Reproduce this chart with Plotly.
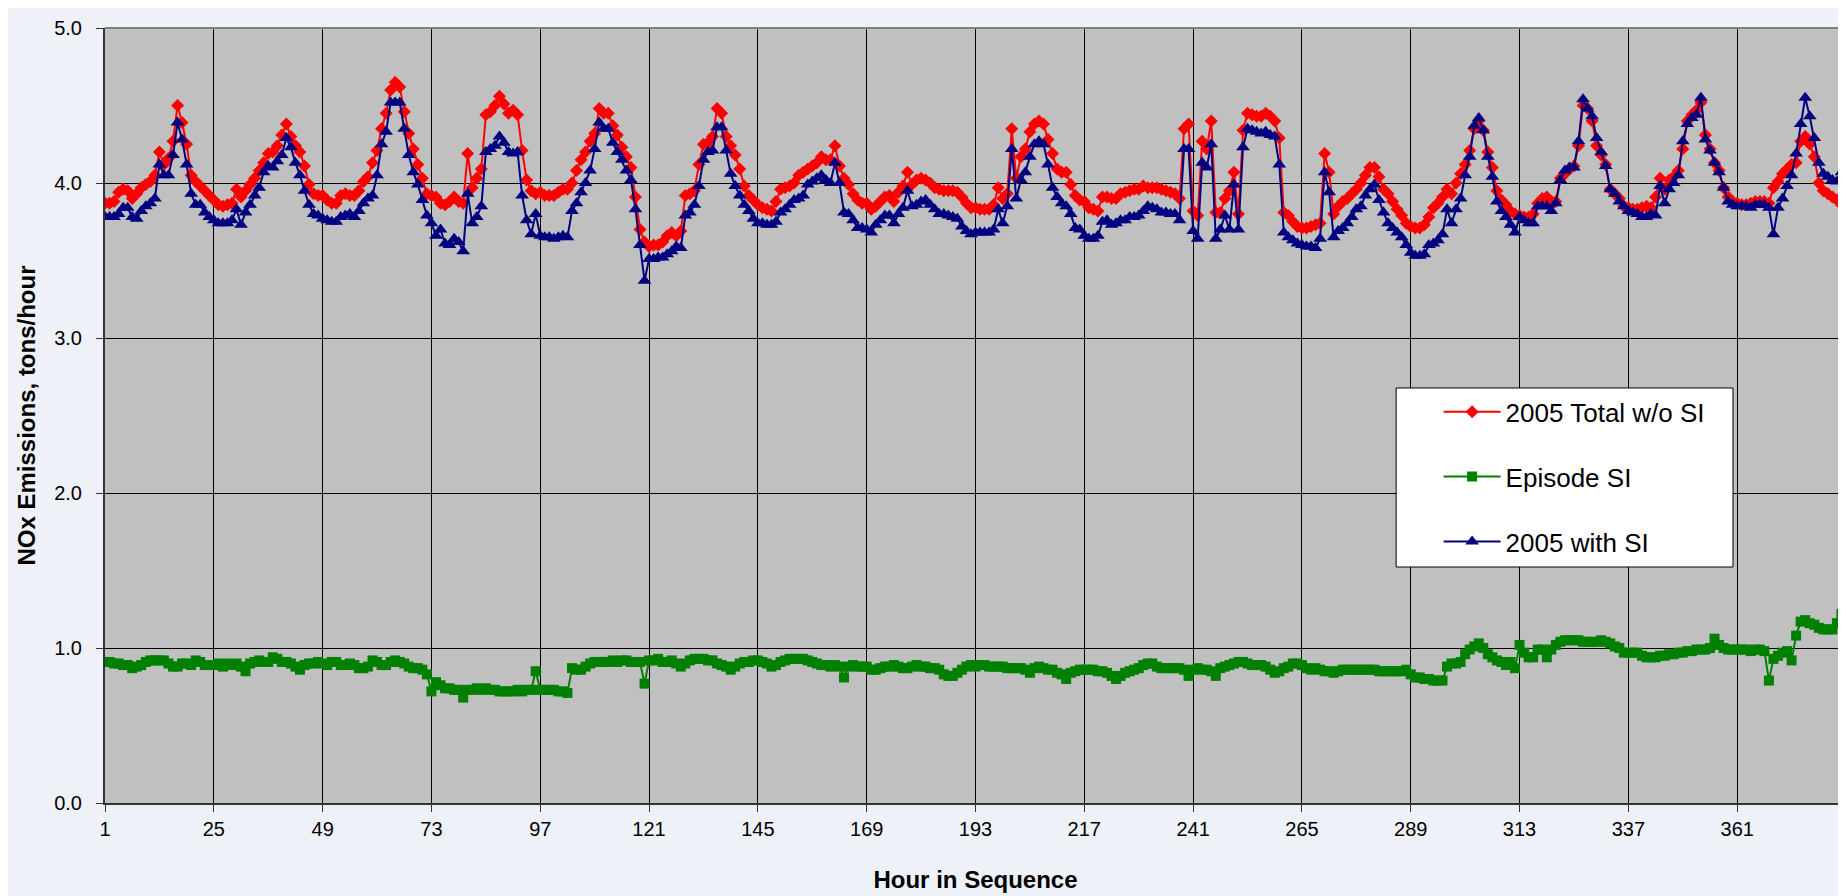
import plotly.graph_objects as go

# Hour index for the 16-day episode
hours = list(range(1, 385))
tick_hours = [1, 25, 49, 73, 97, 121, 145, 169, 193, 217, 241, 265, 289, 313, 337, 361]

total_wo_si = [
    3.87, 3.87, 3.88, 3.94, 3.96, 3.95, 3.90, 3.93, 3.97, 3.99, 4.01, 4.05, 4.20, 4.12, 4.16, 4.27, 4.50, 4.39, 4.25, 4.05, 4.01, 3.98, 3.95, 3.92,
    3.89, 3.86, 3.85, 3.86, 3.87, 3.96, 3.91, 3.95, 3.99, 4.03, 4.08, 4.13, 4.19, 4.20, 4.24, 4.31, 4.38, 4.30, 4.24, 4.20, 4.11, 3.99, 3.93, 3.92,
    3.92, 3.89, 3.87, 3.87, 3.92, 3.93, 3.92, 3.92, 3.95, 4.01, 4.04, 4.13, 4.21, 4.35, 4.45, 4.60, 4.65, 4.62, 4.46, 4.32, 4.22, 4.12, 4.03, 3.93,
    3.92, 3.91, 3.87, 3.86, 3.88, 3.91, 3.88, 3.87, 4.19, 3.97, 4.03, 4.09, 4.44, 4.46, 4.50, 4.56, 4.51, 4.45, 4.47, 4.44, 4.21, 4.02, 3.95, 3.93,
    3.94, 3.92, 3.92, 3.92, 3.94, 3.96, 3.96, 4.00, 4.08, 4.15, 4.20, 4.27, 4.32, 4.48, 4.45, 4.45, 4.37, 4.31, 4.23, 4.17, 4.10, 3.91, 3.70, 3.62,
    3.59, 3.60, 3.60, 3.62, 3.66, 3.68, 3.66, 3.69, 3.92, 3.93, 3.95, 4.12, 4.25, 4.26, 4.30, 4.48, 4.45, 4.30, 4.24, 4.18, 4.09, 3.98, 3.92, 3.89,
    3.86, 3.84, 3.83, 3.82, 3.88, 3.96, 3.97, 3.98, 4.00, 4.05, 4.07, 4.09, 4.11, 4.13, 4.17, 4.15, 4.15, 4.24, 4.11, 4.03, 3.99, 3.93, 3.89, 3.87,
    3.87, 3.83, 3.85, 3.88, 3.91, 3.92, 3.88, 3.94, 3.98, 4.07, 3.99, 4.02, 4.03, 4.02, 4.00, 3.97, 3.96, 3.95, 3.95, 3.95, 3.94, 3.91, 3.87, 3.84,
    3.84, 3.83, 3.83, 3.83, 3.86, 3.97, 3.90, 3.93, 4.35, 4.03, 4.17, 4.22, 4.33, 4.38, 4.40, 4.38, 4.28, 4.19, 4.09, 4.07, 4.07, 3.99, 3.92, 3.89,
    3.88, 3.84, 3.83, 3.82, 3.91, 3.91, 3.90, 3.90, 3.93, 3.94, 3.95, 3.96, 3.96, 3.98, 3.97, 3.97, 3.97, 3.96, 3.95, 3.94, 3.93, 3.90, 4.35, 4.38,
    3.82, 3.79, 4.27, 4.22, 4.40, 3.81, 3.81, 3.90, 3.95, 4.07, 3.80, 4.34, 4.45, 4.44, 4.43, 4.43, 4.45, 4.43, 4.40, 4.29, 3.81, 3.79, 3.75, 3.72,
    3.71, 3.71, 3.72, 3.73, 3.74, 4.19, 4.07, 3.80, 3.85, 3.88, 3.90, 3.93, 3.96, 4.00, 4.05, 4.10, 4.10, 4.04, 3.96, 3.93, 3.88, 3.83, 3.79, 3.74,
    3.72, 3.71, 3.71, 3.73, 3.78, 3.84, 3.87, 3.91, 3.96, 3.93, 4.00, 4.06, 4.12, 4.21, 4.35, 4.40, 4.34, 4.20, 4.10, 3.95, 3.89, 3.86, 3.82, 3.80,
    3.79, 3.78, 3.78, 3.80, 3.87, 3.90, 3.91, 3.88, 3.88, 4.03, 4.06, 4.09, 4.11, 4.24, 4.50, 4.48, 4.40, 4.24, 4.18, 4.12, 3.96, 3.93, 3.90, 3.85,
    3.84, 3.83, 3.83, 3.84, 3.85, 3.84, 3.91, 4.03, 3.96, 4.02, 4.04, 4.08, 4.22, 4.40, 4.44, 4.47, 4.52, 4.31, 4.22, 4.13, 4.08, 3.97, 3.91, 3.88,
    3.87, 3.86, 3.86, 3.87, 3.88, 3.88, 3.88, 3.87, 3.97, 4.01, 4.06, 4.09, 4.12, 4.13, 4.27, 4.30, 4.25, 4.17, 4.00, 3.95, 3.93, 3.91, 3.89, 3.86,
]

episode_si = [
    0.91, 0.91, 0.90, 0.90, 0.89, 0.89, 0.87, 0.88, 0.89, 0.91, 0.92, 0.92, 0.92, 0.92, 0.90, 0.88, 0.88, 0.90, 0.90, 0.89, 0.92, 0.91, 0.89, 0.89,
    0.89, 0.90, 0.88, 0.90, 0.89, 0.90, 0.88, 0.85, 0.90, 0.91, 0.92, 0.91, 0.91, 0.94, 0.93, 0.91, 0.91, 0.90, 0.88, 0.86, 0.89, 0.90, 0.90, 0.91,
    0.90, 0.89, 0.91, 0.91, 0.89, 0.89, 0.90, 0.89, 0.87, 0.87, 0.88, 0.92, 0.91, 0.89, 0.89, 0.91, 0.92, 0.91, 0.90, 0.88, 0.87, 0.87, 0.86, 0.83,
    0.72, 0.78, 0.76, 0.74, 0.74, 0.73, 0.73, 0.68, 0.73, 0.73, 0.74, 0.73, 0.74, 0.73, 0.73, 0.72, 0.72, 0.72, 0.72, 0.73, 0.72, 0.73, 0.73, 0.85,
    0.73, 0.73, 0.73, 0.73, 0.72, 0.72, 0.71, 0.87, 0.86, 0.86, 0.88, 0.90, 0.91, 0.91, 0.91, 0.91, 0.92, 0.91, 0.92, 0.92, 0.91, 0.91, 0.91, 0.77,
    0.92, 0.92, 0.93, 0.91, 0.91, 0.92, 0.90, 0.88, 0.90, 0.92, 0.93, 0.93, 0.93, 0.92, 0.92, 0.90, 0.89, 0.88, 0.86, 0.88, 0.90, 0.91, 0.91, 0.92,
    0.92, 0.91, 0.90, 0.88, 0.89, 0.91, 0.92, 0.93, 0.93, 0.93, 0.93, 0.92, 0.91, 0.90, 0.89, 0.89, 0.88, 0.89, 0.88, 0.81, 0.88, 0.89, 0.88, 0.88,
    0.88, 0.86, 0.86, 0.87, 0.88, 0.88, 0.89, 0.88, 0.87, 0.87, 0.88, 0.89, 0.88, 0.88, 0.87, 0.87, 0.86, 0.83, 0.82, 0.82, 0.84, 0.86, 0.88, 0.89,
    0.88, 0.89, 0.89, 0.88, 0.88, 0.88, 0.88, 0.87, 0.87, 0.87, 0.87, 0.86, 0.84, 0.87, 0.88, 0.87, 0.86, 0.86, 0.84, 0.83, 0.80, 0.84, 0.85, 0.86,
    0.86, 0.86, 0.86, 0.85, 0.85, 0.84, 0.82, 0.80, 0.82, 0.84, 0.85, 0.86, 0.87, 0.89, 0.90, 0.90, 0.88, 0.87, 0.87, 0.87, 0.87, 0.87, 0.86, 0.82,
    0.86, 0.87, 0.86, 0.86, 0.85, 0.82, 0.87, 0.88, 0.89, 0.90, 0.91, 0.91, 0.90, 0.89, 0.89, 0.89, 0.88, 0.86, 0.84, 0.85, 0.87, 0.88, 0.90, 0.90,
    0.89, 0.87, 0.86, 0.87, 0.86, 0.85, 0.85, 0.84, 0.85, 0.86, 0.86, 0.86, 0.86, 0.86, 0.86, 0.86, 0.86, 0.85, 0.85, 0.85, 0.85, 0.85, 0.85, 0.86,
    0.83, 0.81, 0.81, 0.80, 0.80, 0.79, 0.79, 0.79, 0.88, 0.90, 0.90, 0.91, 0.96, 0.99, 1.01, 1.03, 1.00, 0.96, 0.94, 0.92, 0.91, 0.89, 0.91, 0.87,
    1.02, 0.97, 0.94, 0.94, 0.99, 0.99, 0.94, 0.99, 1.02, 1.04, 1.05, 1.05, 1.05, 1.05, 1.04, 1.04, 1.04, 1.04, 1.05, 1.04, 1.03, 1.01, 1.00, 0.97,
    0.97, 0.97, 0.97, 0.95, 0.94, 0.94, 0.94, 0.95, 0.95, 0.96, 0.96, 0.97, 0.97, 0.98, 0.98, 0.99, 0.99, 0.99, 1.00, 1.06, 1.02, 1.00, 0.99, 0.99,
    0.99, 0.99, 0.99, 0.98, 0.99, 0.99, 0.98, 0.79, 0.93, 0.95, 0.97, 0.98, 0.92, 1.08, 1.17, 1.18, 1.16, 1.15, 1.13, 1.12, 1.12, 1.12, 1.16, 1.22,
]

with_si = [
    3.78, 3.78, 3.78, 3.80, 3.84, 3.84, 3.78, 3.77, 3.82, 3.85, 3.87, 3.90, 4.12, 4.05, 4.05, 4.18, 4.39, 4.28, 4.12, 3.93, 3.86, 3.86, 3.81, 3.78,
    3.76, 3.74, 3.74, 3.74, 3.76, 3.83, 3.73, 3.81, 3.86, 3.92, 3.97, 4.07, 4.11, 4.10, 4.14, 4.18, 4.29, 4.23, 4.13, 4.05, 3.95, 3.86, 3.80, 3.79,
    3.77, 3.76, 3.75, 3.75, 3.78, 3.79, 3.80, 3.78, 3.82, 3.87, 3.90, 3.92, 4.05, 4.25, 4.33, 4.52, 4.52, 4.52, 4.35, 4.18, 4.07, 3.99, 3.89, 3.79,
    3.74, 3.66, 3.70, 3.61, 3.60, 3.64, 3.62, 3.56, 3.93, 3.74, 3.78, 3.85, 4.20, 4.22, 4.24, 4.30, 4.26, 4.20, 4.19, 4.20, 3.92, 3.76, 3.67, 3.80,
    3.66, 3.65, 3.65, 3.64, 3.65, 3.66, 3.65, 3.82, 3.87, 3.94, 4.00, 4.08, 4.22, 4.39, 4.35, 4.35, 4.26, 4.20, 4.15, 4.08, 4.02, 3.83, 3.60, 3.37,
    3.51, 3.51, 3.52, 3.52, 3.54, 3.56, 3.59, 3.58, 3.79, 3.81, 3.86, 3.98, 4.15, 4.20, 4.21, 4.36, 4.36, 4.21, 4.06, 3.98, 3.92, 3.86, 3.82, 3.77,
    3.74, 3.74, 3.73, 3.73, 3.75, 3.81, 3.83, 3.86, 3.89, 3.90, 3.92, 3.99, 4.01, 4.03, 4.05, 4.02, 4.00, 4.13, 4.00, 3.81, 3.80, 3.76, 3.71, 3.71,
    3.70, 3.68, 3.73, 3.76, 3.79, 3.79, 3.74, 3.80, 3.84, 3.95, 3.85, 3.86, 3.88, 3.89, 3.86, 3.83, 3.80, 3.80, 3.79, 3.78, 3.77, 3.72, 3.69, 3.67,
    3.68, 3.68, 3.68, 3.68, 3.70, 3.83, 3.74, 3.85, 4.22, 3.90, 4.02, 4.07, 4.17, 4.25, 4.27, 4.25, 4.12, 3.97, 3.91, 3.87, 3.85, 3.80, 3.71, 3.70,
    3.66, 3.64, 3.64, 3.66, 3.75, 3.76, 3.73, 3.74, 3.76, 3.76, 3.78, 3.78, 3.79, 3.82, 3.85, 3.84, 3.83, 3.81, 3.81, 3.80, 3.80, 3.76, 4.22, 4.22,
    3.69, 3.64, 4.13, 4.10, 4.25, 3.64, 3.70, 3.79, 3.70, 3.99, 3.70, 4.23, 4.35, 4.34, 4.33, 4.32, 4.33, 4.31, 4.30, 4.12, 3.68, 3.65, 3.63, 3.61,
    3.60, 3.59, 3.59, 3.58, 3.64, 4.07, 3.94, 3.65, 3.69, 3.71, 3.74, 3.78, 3.83, 3.85, 3.92, 3.96, 3.99, 3.89, 3.81, 3.74, 3.71, 3.68, 3.65, 3.60,
    3.55, 3.53, 3.53, 3.54, 3.60, 3.61, 3.63, 3.67, 3.83, 3.74, 3.83, 3.90, 4.05, 4.17, 4.37, 4.42, 4.34, 4.17, 4.04, 3.88, 3.82, 3.78, 3.73, 3.68,
    3.78, 3.76, 3.74, 3.74, 3.85, 3.85, 3.85, 3.82, 3.87, 4.02, 4.08, 4.10, 4.10, 4.27, 4.54, 4.48, 4.43, 4.29, 4.20, 4.11, 3.96, 3.93, 3.88, 3.85,
    3.82, 3.81, 3.80, 3.78, 3.78, 3.80, 3.79, 3.98, 3.87, 3.96, 4.00, 4.05, 4.27, 4.38, 4.42, 4.44, 4.55, 4.28, 4.21, 4.13, 4.07, 3.97, 3.88, 3.86,
    3.85, 3.85, 3.85, 3.84, 3.86, 3.86, 3.86, 3.84, 3.67, 3.84, 3.90, 3.98, 4.05, 4.19, 4.38, 4.55, 4.43, 4.29, 4.13, 4.06, 4.04, 4.02, 4.01, 4.07,
]

FONT = "Liberation Sans, Arial, sans-serif"

fig = go.Figure()

fig.add_trace(go.Scatter(
    x=hours, y=total_wo_si, mode="lines+markers", name="2005 Total w/o SI",
    legendgroup="a",
    line=dict(color="#ff0000", width=2),
    marker=dict(symbol="diamond", size=10, color="#ff0000")
))

fig.add_trace(go.Scatter(
    x=hours, y=episode_si, mode="lines+markers", name="Episode SI",
    legendgroup="b",
    line=dict(color="#008000", width=2),
    marker=dict(symbol="square", size=10, color="#008000")
))

fig.add_trace(go.Scatter(
    x=hours, y=with_si, mode="lines+markers", name="2005 with SI",
    legendgroup="c",
    line=dict(color="#000080", width=2),
    marker=dict(symbol="triangle-up", size=12, color="#000080")
))

fig.update_layout(
    width=1846,
    height=896,
    paper_bgcolor="#eef1f8",
    plot_bgcolor="#c0c0c0",
    margin=dict(l=97, r=8, t=20, b=101),
    font=dict(family=FONT, size=20, color="black"),
    showlegend=True,
    legend=dict(
        x=0.766, y=0.535, xanchor="left", yanchor="top",
        bgcolor="rgba(0,0,0,0)",
        font=dict(family=FONT, size=26, color="black"),
        itemwidth=57,
        tracegroupgap=28,
    ),
    xaxis=dict(
        range=[1, 385],
        tickvals=tick_hours,
        ticks="outside", ticklen=7, tickcolor="#333333",
        showgrid=True, gridcolor="black", gridwidth=1,
        showline=True, linecolor="#333333", linewidth=2,
        zeroline=False,
        tickfont=dict(family=FONT, size=20),
        title=dict(text="<b>Hour in Sequence</b>", font=dict(family=FONT, size=24), standoff=32),
    ),
    yaxis=dict(
        range=[0, 5],
        dtick=1,
        tickformat=".1f",
        ticks="outside", ticklen=7, tickcolor="#333333",
        ticklabelstandoff=10,
        showgrid=True, gridcolor="black", gridwidth=1,
        showline=True, linecolor="#333333", linewidth=2,
        zeroline=False,
        tickfont=dict(family=FONT, size=20),
        title=dict(text="<b>NOx Emissions, tons/hour</b>", font=dict(family=FONT, size=24), standoff=12),
    ),
    shapes=[
        # legend box
        dict(type="rect", xref="paper", yref="paper",
             x0=0.7416, x1=0.9351, y0=0.3045, y1=0.5355,
             fillcolor="white", line=dict(color="black", width=1), layer="above"),
        # top and right plot border
        dict(type="line", xref="paper", yref="paper", x0=0, x1=1, y0=1, y1=1,
             line=dict(color="#808080", width=2)),
        dict(type="line", xref="paper", yref="paper", x0=1, x1=1, y0=0, y1=1,
             line=dict(color="#808080", width=2)),
    ],
)

fig.write_html("out.html")
